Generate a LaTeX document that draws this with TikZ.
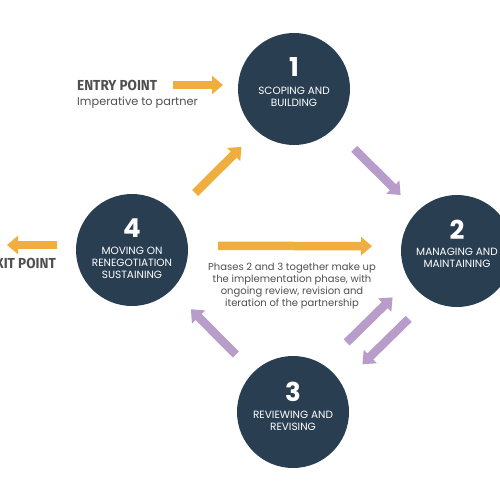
\documentclass[tikz,border=0pt]{standalone}
\usepackage{fontspec}
\setmainfont{Poppins}
\newfontfamily\pointfont[FakeStretch=0.93]{Fira Sans}
\usetikzlibrary{arrows.meta}

\definecolor{phasenavy}{HTML}{2A3E52}
\definecolor{arroworange}{HTML}{F0AE3E}
\definecolor{arrowviolet}{HTML}{B89CC9}
\definecolor{notegray}{HTML}{505050}

\tikzset{
  phase/.style={circle,fill=phasenavy,minimum size=112pt,inner sep=0pt,outer sep=0pt},
  phasenum/.style={text=white,inner sep=0pt,anchor=base,font=\fontsize{26}{26}\selectfont\bfseries},
  phasename/.style={text=white,inner sep=0pt,anchor=base,align=center,font=\fontsize{10.5}{11.8}\selectfont},
  flow/.style={line width=8.5pt,-{Triangle[length=11pt,width=18pt]}},
  pointname/.style={text=notegray,inner sep=0pt,font=\pointfont\bfseries\fontsize{14.5}{15}\selectfont},
  note/.style={text=notegray,inner sep=0pt,font=\fontsize{10}{11.8}\selectfont},
}

\begin{document}
\begin{tikzpicture}[x=1pt,y=-1pt]
\useasboundingbox[fill=white] (0,0) rectangle (500,500);

% the four phases
\node[phase] (s1) at (294,89) {};
\node[phase] (s2) at (457,251) {};
\node[phase] (s3) at (293,412) {};
\node[phase] (s4) at (132,250) {};

\node[phasenum] (n1) at ([yshift=12pt]s1.center) {1};
\node[phasename] (t1) at ([yshift=-17.5pt]s1.center) {SCOPING AND\\BUILDING};
\node[phasenum] (n2) at ([yshift=12pt]s2.center) {2};
\node[phasename] (t2) at ([yshift=-16.5pt]s2.center) {MANAGING AND\\MAINTAINING};
\node[phasenum] (n3) at ([yshift=11pt]s3.center) {3};
\node[phasename] (t3) at ([yshift=-18.5pt]s3.center) {REVIEWING AND\\REVISING};
\node[phasenum] (n4) at ([yshift=13pt]s4.center) {4};
\node[phasename] (t4) at ([yshift=-28.5pt]s4.center) {MOVING ON\\RENEGOTIATION\\SUSTAINING};

% entry and exit
\node[pointname,anchor=base west] (entry) at (77,91) {ENTRY POINT};
\node[note,anchor=base west,font=\fontsize{11.3}{13}\selectfont] (entrynote) at (77,106) {Imperative to partner};
\node[pointname,anchor=base east] (exit) at (56,268) {EXIT POINT};
\coordinate (entrytail) at (173,85);
\coordinate (exittip) at (7,245);
\draw[flow,arroworange,shorten >=15pt] (entrytail) -- (entrytail -| s1.west);
\draw[flow,arroworange,shorten <=19pt] (s4.west |- exittip) -- (exittip);

% the cycle
\draw[flow,arroworange,shorten <=29pt,shorten >=22pt,
  transform canvas={shift={(2.8pt,-2.9pt)}}] (s4) -- (s1);
\draw[flow,arrowviolet,shorten <=29pt,shorten >=23.5pt] (s1) -- (s2);
\draw[flow,arrowviolet,shorten <=31pt,shorten >=22.5pt,
  transform canvas={shift={(-8.4pt,8.6pt)}}] (s3) -- (s2);
\draw[flow,arrowviolet,shorten <=26pt,shorten >=27pt,
  transform canvas={shift={(10.2pt,-10.4pt)}}] (s2) -- (s3);
\draw[flow,arrowviolet,shorten <=25pt,shorten >=27.5pt] (s3) -- (s4);
\draw[flow,arroworange,shorten <=30pt,shorten >=29pt,
  transform canvas={yshift=4.5pt}] (s4) -- (s2);

\node[note,align=center] (implnote) at (292,286)
  {Phases 2 and 3 together make up\\the implementation phase, with\\ongoing review, revision and\\iteration of the partnership};
\end{tikzpicture}
\end{document}
